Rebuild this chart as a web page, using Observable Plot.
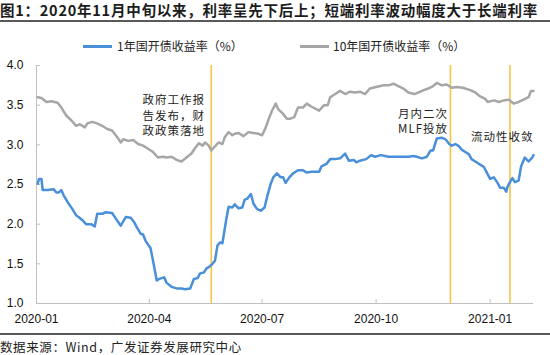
<!DOCTYPE html>
<html>
<head>
<meta charset="utf-8">
<script src="https://cdn.jsdelivr.net/npm/d3@7"></script>
<script src="https://cdn.jsdelivr.net/npm/@observablehq/plot@0.6"></script>
<style>
  html, body { margin: 0; padding: 0; background: #fff; }
  #wrap { position: relative; width: 550px; height: 355px; overflow: hidden; background: #fff;
          font-family: "Noto Sans CJK SC", "Liberation Sans", sans-serif; }
  #title { position: absolute; left: 0; top: 0; font-size: 14.5px; font-weight: bold; line-height: 19px;
           letter-spacing: 0.75px; color: #1c1c1c; white-space: nowrap; }
  .rule { position: absolute; left: 0; width: 550px; height: 2px; background: #595959; }
  .leg { position: absolute; top: 38px; height: 16px; font-size: 12px; line-height: 16px; color: #222; white-space: nowrap; }
  .leg .sw { position: absolute; top: 7px; height: 2.5px; width: 29px; }
  #chart { position: absolute; left: 0; top: 55px; }
  #source { position: absolute; left: 0; top: 338px; font-size: 12.5px; line-height: 17px; color: #222;
            letter-spacing: 0.6px; white-space: nowrap; }
  #chart g.annot text { letter-spacing: 1px; }
</style>
</head>
<body>
<div id="wrap">
  <div id="title">图1：2020年11月中旬以来，利率呈先下后上；短端利率波动幅度大于长端利率</div>
  <div class="rule" style="top:20px"></div>
  <div id="legend"></div>
  <div id="chart"></div>
  <div class="rule" style="top:333px"></div>
  <div id="source">数据来源：Wind，广发证券发展研究中心</div>
</div>
<script>
// ---- data ----
const seriesNames = ["1年国开债收益率（%）", "10年国开债收益率（%）"];
const seriesColors = ["#4a8fd9", "#a6a6a6"];

const dates1y = ["2020-01-02","2020-01-03","2020-01-05","2020-01-06","2020-01-10","2020-01-15","2020-01-17","2020-01-19","2020-01-21","2020-01-23","2020-01-26","2020-01-30","2020-02-02","2020-02-04","2020-02-07","2020-02-10","2020-02-14","2020-02-17","2020-02-19","2020-02-23","2020-02-26","2020-03-02","2020-03-05","2020-03-09","2020-03-13","2020-03-17","2020-03-20","2020-03-22","2020-03-25","2020-03-27","2020-03-29","2020-04-01","2020-04-02","2020-04-05","2020-04-07","2020-04-09","2020-04-13","2020-04-15","2020-04-19","2020-04-23","2020-04-27","2020-04-30","2020-05-04","2020-05-07","2020-05-10","2020-05-12","2020-05-15","2020-05-17","2020-05-20","2020-05-22","2020-05-24","2020-05-26","2020-05-28","2020-05-30","2020-06-02","2020-06-04","2020-06-07","2020-06-09","2020-06-12","2020-06-15","2020-06-17","2020-06-19","2020-06-22","2020-06-24","2020-06-27","2020-06-30","2020-07-03","2020-07-05","2020-07-08","2020-07-10","2020-07-13","2020-07-16","2020-07-18","2020-07-20","2020-07-23","2020-07-26","2020-07-30","2020-08-03","2020-08-06","2020-08-10","2020-08-16","2020-08-18","2020-08-22","2020-08-25","2020-08-29","2020-09-02","2020-09-06","2020-09-09","2020-09-13","2020-09-15","2020-09-18","2020-09-23","2020-09-27","2020-09-30","2020-10-05","2020-10-11","2020-10-16","2020-10-22","2020-10-27","2020-10-31","2020-11-03","2020-11-07","2020-11-11","2020-11-14","2020-11-16","2020-11-19","2020-11-23","2020-11-26","2020-11-29","2020-12-01","2020-12-04","2020-12-07","2020-12-09","2020-12-12","2020-12-15","2020-12-17","2020-12-21","2020-12-24","2020-12-27","2020-12-29","2021-01-01","2021-01-04","2021-01-07","2021-01-09","2021-01-12","2021-01-14","2021-01-15","2021-01-17","2021-01-19","2021-01-21","2021-01-24","2021-01-26","2021-01-29","2021-02-01","2021-02-04","2021-02-05"];
const yields1y = [2.51,2.57,2.57,2.43,2.43,2.44,2.40,2.40,2.43,2.36,2.28,2.19,2.11,2.09,2.05,2.00,2.00,1.97,2.13,2.13,2.15,2.14,2.07,1.98,2.09,2.08,2.02,1.96,1.88,1.87,1.79,1.72,1.70,1.46,1.29,1.31,1.33,1.26,1.21,1.19,1.19,1.18,1.19,1.31,1.32,1.38,1.39,1.44,1.47,1.50,1.54,1.73,1.77,1.76,2.05,2.22,2.21,2.25,2.20,2.21,2.31,2.32,2.38,2.26,2.19,2.17,2.21,2.34,2.51,2.59,2.64,2.59,2.59,2.52,2.59,2.64,2.68,2.68,2.65,2.66,2.66,2.73,2.76,2.82,2.82,2.83,2.89,2.80,2.81,2.78,2.80,2.82,2.87,2.85,2.87,2.85,2.85,2.85,2.85,2.86,2.85,2.83,2.85,2.93,2.93,3.08,3.09,3.07,3.01,2.99,3.01,2.98,2.94,2.91,2.88,2.82,2.78,2.75,2.72,2.66,2.57,2.59,2.52,2.46,2.46,2.41,2.47,2.53,2.58,2.53,2.55,2.73,2.84,2.79,2.84,2.87];

const dates10y = ["2020-01-02","2020-01-05","2020-01-09","2020-01-13","2020-01-18","2020-01-21","2020-01-25","2020-01-29","2020-02-02","2020-02-05","2020-02-09","2020-02-11","2020-02-15","2020-02-19","2020-02-23","2020-02-27","2020-03-02","2020-03-06","2020-03-09","2020-03-11","2020-03-15","2020-03-19","2020-03-23","2020-03-27","2020-03-31","2020-04-04","2020-04-08","2020-04-12","2020-04-15","2020-04-19","2020-04-23","2020-04-27","2020-05-01","2020-05-05","2020-05-08","2020-05-11","2020-05-14","2020-05-16","2020-05-19","2020-05-21","2020-05-24","2020-05-27","2020-05-30","2020-06-01","2020-06-04","2020-06-07","2020-06-09","2020-06-12","2020-06-16","2020-06-20","2020-06-24","2020-06-28","2020-07-01","2020-07-04","2020-07-06","2020-07-09","2020-07-12","2020-07-14","2020-07-18","2020-07-21","2020-07-24","2020-07-27","2020-07-30","2020-08-03","2020-08-06","2020-08-10","2020-08-16","2020-08-20","2020-08-23","2020-08-25","2020-08-29","2020-09-02","2020-09-06","2020-09-10","2020-09-14","2020-09-18","2020-09-22","2020-09-26","2020-10-01","2020-10-07","2020-10-11","2020-10-15","2020-10-19","2020-10-23","2020-10-27","2020-11-01","2020-11-07","2020-11-12","2020-11-16","2020-11-19","2020-11-23","2020-11-27","2020-12-01","2020-12-05","2020-12-10","2020-12-16","2020-12-20","2020-12-24","2020-12-28","2020-12-30","2021-01-04","2021-01-08","2021-01-12","2021-01-16","2021-01-20","2021-01-24","2021-01-28","2021-02-01","2021-02-03","2021-02-05"];
const yields10y = [3.60,3.59,3.54,3.55,3.53,3.47,3.37,3.31,3.24,3.26,3.22,3.27,3.29,3.27,3.24,3.20,3.18,3.10,3.03,3.07,3.05,3.06,3.01,2.99,2.95,2.91,2.84,2.85,2.84,2.85,2.81,2.79,2.84,2.89,2.96,3.02,2.99,3.03,2.99,2.93,2.98,3.03,3.01,3.10,3.16,3.12,3.14,3.15,3.11,3.16,3.15,3.14,3.12,3.22,3.31,3.43,3.52,3.45,3.39,3.33,3.33,3.35,3.47,3.47,3.52,3.48,3.43,3.50,3.50,3.60,3.64,3.68,3.64,3.67,3.66,3.67,3.64,3.71,3.73,3.75,3.75,3.77,3.74,3.71,3.66,3.64,3.68,3.71,3.74,3.78,3.75,3.76,3.72,3.73,3.72,3.69,3.66,3.61,3.58,3.54,3.56,3.54,3.56,3.57,3.52,3.54,3.57,3.60,3.68,3.68];

const eventDates = ["2020-05-21","2020-11-30","2021-01-17"];
const annotTexts = ["政府工作报\n告发布，财\n政政策落地", "月内二次\nMLF投放", "流动性收敛"];
const annotDates = ["2020-05-16", "2020-11-28", "2021-02-05"];
const annotValues = [3.38, 3.307, 3.105];

const xTickDates = ["2020-01-01","2020-04-01","2020-07-01","2020-10-01","2021-01-01"];
const yTicks = [1.0, 1.5, 2.0, 2.5, 3.0, 3.5, 4.0];
const xDomain = ["2020-01-01", "2021-02-05"];
const yDomain = [1, 4];

// ---- build tables ----
const parse = s => new Date(s + "T00:00:00Z");
const s1 = dates1y.map((d, i) => ({date: parse(d), value: yields1y[i]}));
const s10 = dates10y.map((d, i) => ({date: parse(d), value: yields10y[i]}));
const annots = annotTexts.map((t, i) => ({text: t, date: parse(annotDates[i]), value: annotValues[i]}));

// ---- legend ----
const legend = document.getElementById("legend");
const legPos = [{sw: 83, tx: 117}, {sw: 300, tx: 333}];
seriesNames.forEach((name, i) => {
  const sw = document.createElement("div");
  sw.className = "leg";
  sw.style.left = legPos[i].sw + "px";
  sw.style.width = "30px";
  sw.innerHTML = `<span class="sw" style="left:0;background:${seriesColors[i]}"></span>`;
  legend.appendChild(sw);
  const tx = document.createElement("div");
  tx.className = "leg";
  tx.style.left = legPos[i].tx + "px";
  tx.textContent = name;
  legend.appendChild(tx);
});

// ---- chart ----
const axisColor = "#bfbfbf";
const chart = Plot.plot({
  width: 550,
  height: 275,
  marginLeft: 36,
  marginRight: 17,
  marginTop: 10,
  marginBottom: 27,
  style: {fontFamily: "'Liberation Sans', Arial, sans-serif", fontSize: "12px", color: "#111", background: "#fff"},
  x: {type: "utc", domain: xDomain.map(parse)},
  y: {domain: yDomain},
  marks: [
    Plot.ruleX(eventDates.map(parse), {stroke: "#f7c545", strokeWidth: 1.6}),
    Plot.ruleX([parse(xDomain[0])], {stroke: axisColor, strokeWidth: 1}),
    Plot.ruleY([yDomain[0]], {stroke: axisColor, strokeWidth: 1.2}),
    Plot.axisY({ticks: yTicks, tickSize: -4, tickFormat: () => "", label: null, stroke: axisColor}),
    Plot.axisY({ticks: yTicks, tickSize: 0, tickPadding: 13, tickFormat: d3.format(".1f"), label: null, fill: "#111"}),
    Plot.axisX({ticks: xTickDates.map(parse), tickSize: -4, tickFormat: () => "", label: null, stroke: axisColor}),
    Plot.axisX({ticks: xTickDates.map(parse), tickSize: 0, tickPadding: 11, tickFormat: d3.utcFormat("%Y-%m"), label: null, fill: "#111"}),
    Plot.line(s10, {x: "date", y: "value", stroke: seriesColors[1], strokeWidth: 2.5}),
    Plot.line(s1, {x: "date", y: "value", stroke: seriesColors[0], strokeWidth: 2.5}),
    Plot.text(annots, {x: "date", y: "value", text: "text", textAnchor: "end", lineAnchor: "middle",
      lineHeight: 1.35, fontSize: 11.5, fontFamily: "'Noto Sans CJK SC', sans-serif", fill: "#222", className: "annot"})
  ]
});
document.getElementById("chart").appendChild(chart);
</script>
</body>
</html>
